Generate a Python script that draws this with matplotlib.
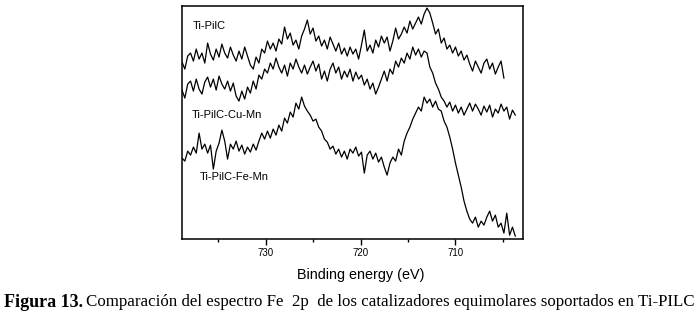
import numpy as np
import matplotlib
matplotlib.use("Agg")
import matplotlib.pyplot as plt
from matplotlib.ticker import MultipleLocator

# Fe 2p XPS spectra, binding energy grid (eV), 0.3 eV step
e_start = 738.8
e_step = 0.3

# intensities (arb. units)
ti_pilc = [177, 170, 183, 186, 178, 190, 180, 186, 176, 196,
           185, 179, 190, 182, 195, 186, 181, 192, 184, 178,
           188, 180, 192, 183, 174, 170, 182, 176, 190, 186,
           198, 190, 196, 188, 200, 195, 212, 200, 206, 194,
           199, 190, 203, 210, 219, 205, 211, 198, 203, 193,
           199, 190, 202, 195, 188, 196, 185, 191, 183, 192,
           185, 190, 180, 194, 209, 188, 194, 186, 199, 192,
           203, 196, 202, 188, 198, 211, 200, 205, 212, 206,
           218, 210, 216, 222, 215, 225, 231, 226, 216, 205,
           210, 196, 201, 190, 194, 186, 192, 183, 188, 179,
           184, 175, 168, 178, 172, 166, 176, 180, 170, 176,
           165, 172, 178, 161]

ti_pilc_cu_mn = [149, 141, 155, 158, 148, 160, 150, 145, 157, 162,
                 152, 160, 149, 163, 155, 150, 158, 148, 156, 143,
                 138, 148, 140, 152, 146, 158, 150, 164, 160, 170,
                 166, 176, 170, 181, 172, 166, 174, 163, 176, 170,
                 180, 172, 166, 174, 165, 172, 178, 168, 175, 160,
                 168, 158, 170, 176, 166, 172, 160, 168, 162, 170,
                 158, 167, 160, 164, 154, 160, 150, 156, 145, 152,
                 160, 168, 158, 170, 165, 178, 172, 181, 176, 186,
                 180, 192, 184, 190, 182, 188, 186, 172, 166, 156,
                 150, 142, 138, 132, 137, 128, 134, 126, 132, 124,
                 130, 136, 128, 135, 130, 124, 133, 127, 134, 122,
                 130, 126, 135, 128, 132, 120, 129, 124]

ti_pilc_fe_mn = [81, 78, 88, 84, 92, 86, 106, 90, 95, 86,
                 94, 70, 88, 96, 109, 98, 80, 95, 90, 98,
                 88, 94, 85, 92, 87, 95, 89, 98, 106, 100,
                 108, 101, 110, 104, 114, 108, 121, 116, 127, 122,
                 136, 130, 142, 133, 128, 124, 118, 120, 112, 108,
                 100, 97, 90, 93, 85, 90, 82, 88, 80, 90,
                 86, 92, 83, 87, 66, 84, 88, 80, 86, 77,
                 82, 72, 64, 76, 82, 78, 90, 84, 98, 106,
                 112, 120, 126, 132, 128, 142, 136, 140, 132, 138,
                 130, 128, 118, 112, 102, 90, 76, 64, 52, 38,
                 28, 20, 16, 22, 12, 18, 14, 22, 28, 18,
                 24, 12, 16, 6, 26, 4, 12, 3]

series = [("Ti-PilC", ti_pilc), ("Ti-PilC-Cu-Mn", ti_pilc_cu_mn),
          ("Ti-PilC-Fe-Mn", ti_pilc_fe_mn)]
label_pos = {"Ti-PilC": (0.032, 0.915),
             "Ti-PilC-Cu-Mn": (0.029, 0.532),
             "Ti-PilC-Fe-Mn": (0.053, 0.266)}

fig = plt.figure(figsize=(7, 3.18), dpi=100)
ax = fig.add_axes([0.26, 0.248, 0.487, 0.733])

for name, vals in series:
    energy = e_start - e_step * np.arange(len(vals))
    ax.plot(energy, vals, color="black", lw=0.9)
    lx, ly = label_pos[name]
    ax.text(lx, ly, name, transform=ax.transAxes, fontsize=8,
            family="Liberation Sans", va="center", ha="left")

ax.set_xlim(738.8, 702.9)
ax.set_ylim(0, 233)
ax.set_yticks([])
ax.xaxis.set_major_locator(MultipleLocator(10))
ax.xaxis.set_minor_locator(MultipleLocator(5))
ax.tick_params(axis="x", which="major", length=4, width=1, pad=2.5,
               labelsize=7, direction="out")
ax.tick_params(axis="x", which="minor", length=2, width=1, direction="out")
for lab in ax.get_xticklabels():
    lab.set_family("Liberation Sans")
for sp in ax.spines.values():
    sp.set_linewidth(1.1)
ax.set_xlabel("Binding energy (eV)", fontsize=10.4, family="Liberation Sans",
              labelpad=5)
ax.xaxis.set_label_coords(0.525, -0.125)

# caption: bold "Figura 13." then regular text right after it
cap_y = 0.05
t1 = fig.text(0.005, cap_y, "Figura 13.", fontsize=13, fontweight="bold",
              family="Liberation Serif", va="center", ha="left")
fig.canvas.draw()
bb = t1.get_window_extent()
x2 = (bb.x1 + 3) / fig.bbox.width
t2 = fig.text(x2, cap_y,
              "Comparación del espectro Fe  2p  de los catalizadores equimolares soportados en Ti-PILC",
              fontsize=12.3, family="Liberation Serif", va="center", ha="left")
fig.canvas.draw()
w = t2.get_window_extent().width
t2.set_fontsize(12.3 * (693 - (bb.x1 + 3)) / w)

fig.savefig("out.png", dpi=100)
